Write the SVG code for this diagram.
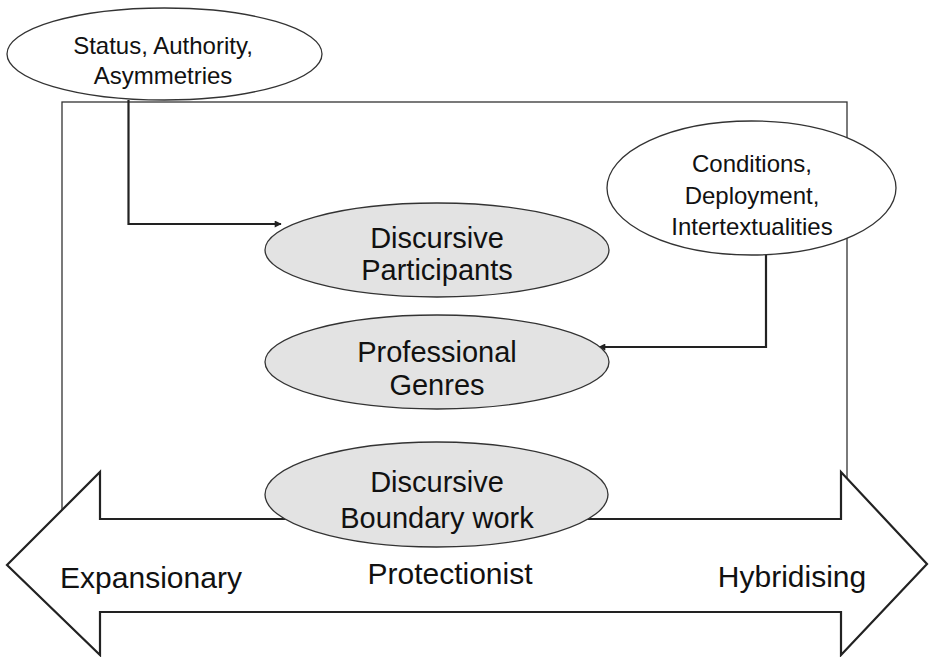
<svg xmlns="http://www.w3.org/2000/svg" width="929" height="657" viewBox="0 0 929 657">
  <defs>
    <marker id="ah" viewBox="0 0 10 10" refX="9" refY="5" markerWidth="9" markerHeight="7" markerUnits="userSpaceOnUse" orient="auto">
      <path d="M0,0 L10,5 L0,10 z" fill="#222"/>
    </marker>
    <style>
      .frame { fill: none; stroke: #333; stroke-width: 1.3; }
      .ow { fill: #fff; stroke: #333; stroke-width: 1.3; }
      .og { fill: #e3e3e3; stroke: #333; stroke-width: 1.3; }
      .conn { fill: none; stroke: #222; stroke-width: 2.2; }
      .big { fill: #fff; stroke: #222; stroke-width: 2.2; stroke-linejoin: miter; }
      text { font-family: "Liberation Sans", Arial, sans-serif; fill: #111; text-anchor: middle; }
      .s { font-size: 24px; }
      .m { font-size: 29px; }
      .l { font-size: 30px; }
    </style>
  </defs>
  <rect id="frame" class="frame" x="62" y="102" width="785" height="420"/>
  <g id="connectors">
    <path class="conn" d="M128.5,100 V224 H281" marker-end="url(#ah)"/>
    <path class="conn" d="M766,255 V347 H599" marker-end="url(#ah)"/>
  </g>
  <g id="status">
    <ellipse class="ow" cx="164.5" cy="54" rx="157.5" ry="46"/>
    <text class="s" x="163" y="54">Status, Authority,</text>
    <text class="s" x="163" y="84">Asymmetries</text>
  </g>
  <g id="conditions">
    <ellipse class="ow" cx="751.5" cy="188" rx="144.5" ry="67"/>
    <text class="s" x="752" y="172">Conditions,</text>
    <text class="s" x="752" y="204">Deployment,</text>
    <text class="s" x="752" y="235">Intertextualities</text>
  </g>
  <g id="participants">
    <ellipse class="og" cx="437" cy="250" rx="172" ry="47"/>
    <text class="m" x="437" y="248">Discursive</text>
    <text class="m" x="437" y="280">Participants</text>
  </g>
  <g id="genres">
    <ellipse class="og" cx="437" cy="362" rx="172" ry="47"/>
    <text class="m" x="437" y="362">Professional</text>
    <text class="m" x="437" y="395">Genres</text>
  </g>
  <g id="scale">
    <polygon class="big" points="7,565 100,472 100,519 841,519 841,472 927,564 841,655 841,612 100,612 100,655"/>
    <text class="l" x="151" y="588">Expansionary</text>
    <text class="l" x="450" y="584">Protectionist</text>
    <text class="l" x="792" y="587">Hybridising</text>
  </g>
  <g id="boundary">
    <ellipse class="og" cx="436.5" cy="494.5" rx="171.5" ry="52.5"/>
    <text class="m" x="437" y="492">Discursive</text>
    <text class="m" x="437" y="528">Boundary work</text>
  </g>
</svg>
